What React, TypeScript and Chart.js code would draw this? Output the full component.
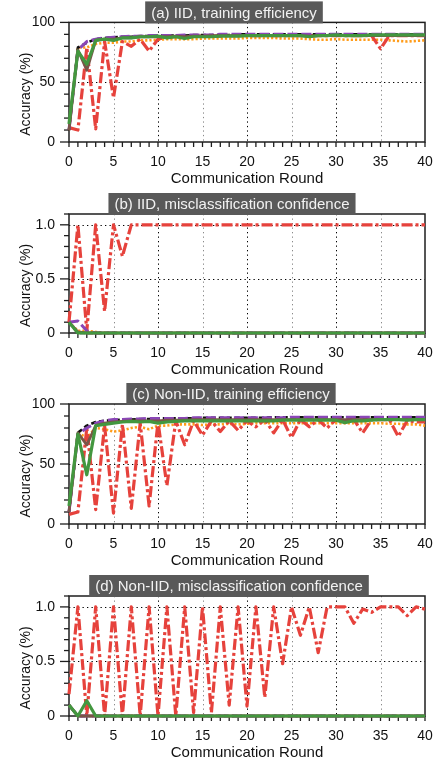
import React, { useEffect, useRef } from 'react';
import { Chart, registerables } from 'chart.js';
Chart.register(...registerables);

const FONT = '"Liberation Sans", Arial, Helvetica, sans-serif';

const rounds = [0, 1, 2, 3, 4, 5, 6, 7, 8, 9, 10, 11, 12, 13, 14, 15, 16, 17, 18, 19, 20,
  21, 22, 23, 24, 25, 26, 27, 28, 29, 30, 31, 32, 33, 34, 35, 36, 37, 38, 39, 40];
const xGridValues = [5, 10, 15, 20, 25, 30, 35];
const xLabelValues = [0, 5, 10, 15, 20, 25, 30, 35, 40];

// (a) IID, training efficiency
const aBlack = [10, 79, 83, 86, 87, 87.5, 88, 88, 88.5, 88.5, 89, 89, 89, 89, 89.5, 89.5, 89.5, 89.5, 89.5, 90, 90,
  90, 90, 90, 90, 90, 90, 90, 90, 90, 90, 90, 90, 90, 90, 90, 90, 90, 90, 90, 90];
const aPurple = [10, 77, 84, 86, 87, 87.5, 88, 88.5, 88.5, 89, 89, 89, 89, 89.5, 89.5, 89.5, 89.5, 90, 90, 90, 90,
  90, 90, 90, 90, 90, 90, 90, 90, 90, 90, 90, 90, 90, 90, 90, 90, 90, 90, 90, 90];
const aBrown = [10, 77, 60, 85, 86, 86, 87, 87, 88, 88, 88, 88, 88.5, 88, 88.5, 88.5, 89, 89, 89, 89, 89,
  89, 89, 89, 89, 89, 89, 88.5, 89, 89, 89, 89, 89, 89, 89, 89, 89, 89, 89, 89, 89];
const aGreen = [15, 76, 65, 85, 86, 85, 87, 87, 88, 88, 88.5, 87, 88, 86.5, 88, 88, 88, 88.5, 88.5, 88.5, 89,
  89, 89, 89, 89, 89, 89, 88, 89, 89, 89.5, 89, 89, 89, 89.5, 89.5, 89.5, 89.5, 89.5, 89.5, 89.5];
const aOrange = [10, 79, 79, 82, 83, 83, 84, 84, 85, 85, 85.5, 86, 86, 86, 86, 86.5, 86.5, 86.5, 86.5, 86.5, 87,
  87, 87, 87, 86.5, 86.5, 86.5, 86, 85.5, 85.5, 86, 85.5, 85.5, 85.5, 85.5, 85.5, 85, 84.5, 84, 84.5, 85];
const aRed = [12, 10, 79, 11, 84, 37, 84, 80, 86, 76, 86, 88, 88, 88, 88.5, 88.5, 88.5, 88.5, 89, 89, 89,
  89, 89, 89, 89, 89, 89, 89, 89, 89, 89, 89, 89, 89, 89, 78, 89, 89, 89, 89, 89];

// (b) IID, misclassification confidence
const bBlack = [0.1, 0, 0, 0, 0, 0, 0, 0, 0, 0, 0, 0, 0, 0, 0, 0, 0, 0, 0, 0, 0,
  0, 0, 0, 0, 0, 0, 0, 0, 0, 0, 0, 0, 0, 0, 0, 0, 0, 0, 0, 0];
const bPurple = [0.1, 0.11, 0.02, 0, 0, 0, 0, 0, 0, 0, 0, 0, 0, 0, 0, 0, 0, 0, 0, 0, 0,
  0, 0, 0, 0, 0, 0, 0, 0, 0, 0, 0, 0, 0, 0, 0, 0, 0, 0, 0, 0];
const bBrown = [0.1, 0.01, 0, 0, 0, 0, 0, 0, 0, 0, 0, 0, 0, 0, 0, 0, 0, 0, 0, 0, 0,
  0, 0, 0, 0, 0, 0, 0, 0, 0, 0, 0, 0, 0, 0, 0, 0, 0, 0, 0, 0];
const bGreen = [0.1, 0, 0, 0, 0, 0, 0, 0, 0, 0, 0, 0, 0, 0, 0, 0, 0, 0, 0, 0, 0,
  0, 0, 0, 0, 0, 0, 0, 0, 0, 0, 0, 0, 0, 0, 0, 0, 0, 0, 0, 0];
const bOrange = [0.1, 0.02, 0.02, 0.01, 0, 0, 0, 0, 0, 0, 0, 0, 0, 0, 0, 0, 0, 0, 0, 0, 0,
  0, 0, 0, 0, 0, 0, 0, 0, 0, 0, 0, 0, 0, 0, 0, 0, 0, 0, 0, 0];
const bRed = [0.1, 1.0, 0.02, 1.0, 0.2, 1.0, 0.71, 1.0, 1.0, 1.0, 1.0, 1.0, 1.0, 1.0, 1.0, 1.0, 1.0, 1.0, 1.0, 1.0, 1.0,
  1.0, 1.0, 1.0, 1.0, 1.0, 1.0, 1.0, 1.0, 1.0, 1.0, 1.0, 1.0, 1.0, 1.0, 1.0, 1.0, 1.0, 1.0, 1.0, 1.0];

// (c) Non-IID, training efficiency
const cBlack = [10, 76, 82, 85, 86, 86.5, 87, 87, 87.5, 87.5, 88, 88, 88, 88, 88, 88.5, 88.5, 88.5, 88.5, 88.5, 88.5,
  88.5, 88.5, 89, 89, 89, 89, 89, 89, 89, 89, 89, 89, 89, 89, 89, 89, 89, 89, 89, 89];
const cPurple = [10, 75, 80, 84, 86, 87, 87, 87.5, 87.5, 88, 88, 88, 88, 88, 88.5, 88.5, 88.5, 88.5, 88.5, 88.5, 88.5,
  88.5, 88.5, 88.5, 88.5, 89, 89, 89, 89, 89, 89, 89, 89, 89, 89, 89, 89, 89, 89, 89, 89];
const cBrown = [10, 76, 66, 82, 84, 85, 85.5, 86, 86, 86, 86, 86.5, 86.5, 86.5, 87, 87, 87, 87, 87, 87, 87,
  87, 87, 87, 87, 87, 87, 87, 87, 87, 87, 87, 87, 87, 87, 87, 87, 87, 87, 87, 87];
const cGreen = [15, 75, 41, 82, 83, 84, 85, 85.5, 85, 85.5, 84, 85, 85.5, 86, 86, 86, 86, 86, 86, 86, 86,
  86, 86, 86, 86.5, 86.5, 86.5, 86.5, 86.5, 86.5, 86.5, 84.5, 86, 86, 86.5, 87, 87, 87, 86.5, 87, 87];
const cOrange = [10, 76, 72, 80, 79, 77, 78, 80, 81, 79, 82, 82, 83, 83, 83, 82.5, 83, 83, 83.5, 83, 83.5,
  84, 84, 84, 84, 84, 84, 84, 84, 84, 84, 84, 84, 84, 84, 84, 83.5, 83.5, 83, 83, 82];
const cRed = [8, 10, 80, 12, 82, 9, 83, 13, 84, 15, 85, 32, 86, 66, 86, 74, 86, 77, 86, 78, 86,
  81, 87, 76, 87, 72, 87, 81, 87, 80, 87, 86, 87, 76, 87, 87, 87, 73, 86, 85, 85];

// (d) Non-IID, misclassification confidence
const dBlack = [0.1, 0, 0, 0, 0, 0, 0, 0, 0, 0, 0, 0, 0, 0, 0, 0, 0, 0, 0, 0, 0,
  0, 0, 0, 0, 0, 0, 0, 0, 0, 0, 0, 0, 0, 0, 0, 0, 0, 0, 0, 0];
const dPurple = [0.1, 0, 0, 0, 0, 0, 0, 0, 0, 0, 0, 0, 0, 0, 0, 0, 0, 0, 0, 0, 0,
  0, 0, 0, 0, 0, 0, 0, 0, 0, 0, 0, 0, 0, 0, 0, 0, 0, 0, 0, 0];
const dBrown = [0.1, 0, 0, 0, 0, 0, 0, 0, 0, 0, 0, 0, 0, 0, 0, 0, 0, 0, 0, 0, 0,
  0, 0, 0, 0, 0, 0, 0, 0, 0, 0, 0, 0, 0, 0, 0, 0, 0, 0, 0, 0];
const dGreen = [0.1, 0, 0.14, 0, 0, 0, 0, 0, 0, 0, 0, 0, 0, 0, 0, 0, 0, 0, 0, 0, 0,
  0, 0, 0, 0, 0, 0, 0, 0, 0, 0, 0, 0, 0, 0, 0, 0, 0, 0, 0, 0];
const dOrange = [0.1, 0, 0, 0, 0, 0, 0, 0, 0, 0, 0, 0, 0, 0, 0, 0, 0, 0, 0, 0, 0,
  0, 0, 0, 0, 0, 0, 0, 0, 0, 0, 0, 0, 0, 0, 0, 0, 0, 0, 0, 0];
const dRed = [0.2, 1.0, 0, 1.0, 0, 1.0, 0, 1.0, 0, 1.0, 0, 1.0, 0, 1.0, 0.03, 1.0, 0.03, 1.0, 0.1, 1.0, 0.09,
  1.0, 0.17, 1.0, 0.48, 1.0, 0.74, 1.0, 0.58, 1.0, 1.0, 1.0, 0.85, 0.98, 0.95, 1.0, 1.0, 1.0, 0.92, 1.0, 0.98];

const COLORS = {
  black: '#111111',
  purple: '#8a46b6',
  brown: '#7a5548',
  green: '#43973f',
  orange: '#ff9c1a',
  red: '#e6423c',
};

type Series = { black: number[]; purple: number[]; brown: number[]; green: number[]; orange: number[]; red: number[] };

type PanelCfg = {
  title: string;
  series: Series;
  top: number;
  h: number;
  padTop: number;
  xH: number;
  titleX: number;
  yMax: number;
  yStep: number;
  yMinor: number;
  yGrid: number[];
  frac: boolean;
};

const panels: PanelCfg[] = [
  { title: '(a) IID, training efficiency', series: { black: aBlack, purple: aPurple, brown: aBrown, green: aGreen, orange: aOrange, red: aRed },
    top: 0, h: 190, padTop: 22, xH: 48, titleX: 234, yMax: 100, yStep: 50, yMinor: 10, yGrid: [50], frac: false },
  { title: '(b) IID, misclassification confidence', series: { black: bBlack, purple: bPurple, brown: bBrown, green: bGreen, orange: bOrange, red: bRed },
    top: 190, h: 190, padTop: 24, xH: 47, titleX: 232, yMax: 1.1, yStep: 0.5, yMinor: 0.1, yGrid: [0.5, 1.0], frac: true },
  { title: '(c) Non-IID, training efficiency', series: { black: cBlack, purple: cPurple, brown: cBrown, green: cGreen, orange: cOrange, red: cRed },
    top: 380, h: 190, padTop: 24, xH: 46, titleX: 231, yMax: 100, yStep: 50, yMinor: 10, yGrid: [50], frac: false },
  { title: '(d) Non-IID, misclassification confidence', series: { black: dBlack, purple: dPurple, brown: dBrown, green: dGreen, orange: dOrange, red: dRed },
    top: 570, h: 195, padTop: 26, xH: 49, titleX: 229, yMax: 1.1, yStep: 0.5, yMinor: 0.1, yGrid: [0.5, 1.0], frac: true },
];

function makeDatasets(s: Series) {
  const defs = [
    { label: 'green', data: s.green, borderColor: COLORS.green, borderWidth: 3.2, borderDash: [] as number[] },
    { label: 'brown', data: s.brown, borderColor: COLORS.brown, borderWidth: 2.8, borderDash: [] as number[] },
    { label: 'purple', data: s.purple, borderColor: COLORS.purple, borderWidth: 3, borderDash: [10, 4] },
    { label: 'black', data: s.black, borderColor: COLORS.black, borderWidth: 2.6, borderDash: [5, 3] },
    { label: 'red', data: s.red, borderColor: COLORS.red, borderWidth: 3.2, borderDash: [11, 3, 3, 3] },
    { label: 'orange', data: s.orange, borderColor: COLORS.orange, borderWidth: 2.6, borderDash: [2.2, 2] },
  ];
  return defs.map((d) => ({
    ...d,
    data: rounds.map((r, i) => ({ x: r, y: d.data[i] })),
    pointRadius: 0,
    fill: false,
    tension: 0,
    borderJoinStyle: 'round' as const,
    clip: false as any,
  }));
}

function makePlugin(cfg: PanelCfg) {
  return {
    id: 'frameDeco',
    beforeDatasetsDraw(chart: any) {
      const { ctx, chartArea: a, scales } = chart;
      const x = scales.x;
      const y = scales.y;
      ctx.save();
      ctx.lineWidth = 1;
      ctx.setLineDash([1.3, 3.2]);
      xGridValues.forEach((v) => {
        const px = Math.round(x.getPixelForValue(v)) + 0.5;
        ctx.strokeStyle = v % 10 === 0 ? '#000000' : '#8a8a8a';
        ctx.beginPath();
        ctx.moveTo(px, a.top);
        ctx.lineTo(px, a.bottom);
        ctx.stroke();
      });
      cfg.yGrid.forEach((v) => {
        const py = Math.round(y.getPixelForValue(v)) + 0.5;
        ctx.strokeStyle = '#000000';
        ctx.beginPath();
        ctx.moveTo(a.left, py);
        ctx.lineTo(a.right, py);
        ctx.stroke();
      });
      ctx.setLineDash([]);
      ctx.strokeStyle = '#1e1e1e';
      ctx.lineWidth = 1.5;
      ctx.strokeRect(a.left, a.top, a.right - a.left, a.bottom - a.top);
      ctx.lineWidth = 1.3;
      rounds.forEach((v) => {
        const px = x.getPixelForValue(v);
        ctx.beginPath();
        ctx.moveTo(px, a.bottom);
        ctx.lineTo(px, a.bottom + 5);
        ctx.stroke();
      });
      const n = Math.round(cfg.yMax / cfg.yMinor);
      for (let i = 0; i <= n; i++) {
        const v = i * cfg.yMinor;
        const major = Math.abs(v / cfg.yStep - Math.round(v / cfg.yStep)) < 1e-6;
        const py = y.getPixelForValue(v);
        ctx.beginPath();
        ctx.moveTo(a.left, py);
        ctx.lineTo(a.left - (major ? 9 : 5), py);
        ctx.stroke();
      }
      ctx.restore();
    },
    afterDraw(chart: any) {
      const { ctx, chartArea: a } = chart;
      ctx.save();
      ctx.font = `15px ${FONT}`;
      const tw = ctx.measureText(cfg.title).width;
      const bw = tw + 12;
      const bh = 22;
      const bx = cfg.titleX - bw / 2;
      const by = a.top + 1 - bh;
      ctx.fillStyle = '#595959';
      ctx.fillRect(bx, by, bw, bh);
      ctx.fillStyle = '#f2f2f2';
      ctx.textAlign = 'center';
      ctx.textBaseline = 'middle';
      ctx.fillText(cfg.title, cfg.titleX, by + bh / 2 + 1);
      ctx.fillStyle = '#111111';
      ctx.font = `15px ${FONT}`;
      ctx.fillText('Communication Round', (a.left + a.right) / 2, a.bottom + 37);
      ctx.font = `14px ${FONT}`;
      ctx.translate(26, (a.top + a.bottom) / 2 + 12);
      ctx.rotate(-Math.PI / 2);
      ctx.fillText('Accuracy (%)', 0, 0);
      ctx.restore();
    },
  };
}

function Panel({ cfg }: { cfg: PanelCfg }) {
  const ref = useRef<HTMLCanvasElement>(null);
  useEffect(() => {
    const chart = new Chart(ref.current as HTMLCanvasElement, {
      type: 'line',
      data: { datasets: makeDatasets(cfg.series) as any },
      options: {
        animation: false,
        responsive: false,
        devicePixelRatio: 1,
        layout: { padding: { top: cfg.padTop, right: 20, left: 0, bottom: 0 } },
        plugins: { legend: { display: false }, tooltip: { enabled: false }, title: { display: false } },
        scales: {
          x: {
            type: 'linear',
            min: 0,
            max: 40,
            grid: { display: false, drawTicks: false, tickLength: 0 },
            border: { display: false },
            ticks: {
              stepSize: 5,
              padding: 12,
              maxRotation: 0,
              autoSkip: false,
              color: '#111111',
              font: { family: FONT, size: 14 },
              callback: (v: any) => (xLabelValues.includes(Number(v)) ? String(v) : ''),
            },
            afterFit: (scale: any) => { scale.height = cfg.xH; },
          },
          y: {
            type: 'linear',
            min: 0,
            max: cfg.yMax,
            grid: { display: false, drawTicks: false, tickLength: 0 },
            border: { display: false },
            ticks: {
              stepSize: cfg.yStep,
              includeBounds: false,
              padding: 14,
              color: '#111111',
              font: { family: FONT, size: 14 },
              callback: (v: any) => {
                const n = Number(v);
                if (n === 0) return '0';
                return cfg.frac ? n.toFixed(1) : String(n);
              },
            },
            afterFit: (scale: any) => { scale.width = 69; },
          },
        },
      },
      plugins: [makePlugin(cfg)],
    });
    return () => chart.destroy();
  }, []);
  return (
    <canvas
      ref={ref}
      width={445}
      height={cfg.h}
      style={{ position: 'absolute', left: 0, top: cfg.top, width: 445, height: cfg.h }}
    />
  );
}

export default function App() {
  return (
    <div style={{ position: 'absolute', left: 0, top: 0, width: 445, height: 765, background: '#ffffff' }}>
      {panels.map((p) => (
        <Panel key={p.title} cfg={p} />
      ))}
    </div>
  );
}
